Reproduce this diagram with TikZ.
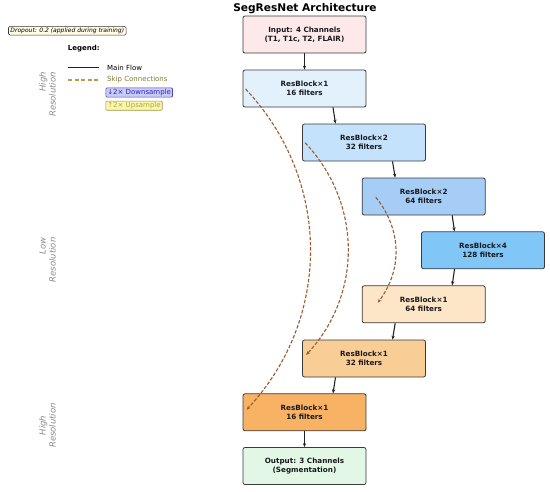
\documentclass[tikz,border=0pt]{standalone}
\usepackage{fontspec}
\setmainfont{DejaVu Sans}
\usetikzlibrary{arrows.meta,calc}
\definecolor{cin}{HTML}{FDE9E9}
\definecolor{ceA}{HTML}{E3F1FD}
\definecolor{ceB}{HTML}{C4E2FB}
\definecolor{ceC}{HTML}{A6CDF6}
\definecolor{ceD}{HTML}{80C6F7}
\definecolor{cdC}{HTML}{FDE5C8}
\definecolor{cdB}{HTML}{F8CE96}
\definecolor{cdA}{HTML}{F8B264}
\definecolor{cout}{HTML}{E2F7E5}
\definecolor{bordr}{HTML}{3A3A3A}
\definecolor{flowc}{HTML}{222222}
\definecolor{skipc}{HTML}{9C5A30}
\definecolor{legskip}{HTML}{B0A04A}
\definecolor{legskiptxt}{HTML}{7E7C36}
\definecolor{downtxt}{HTML}{2828C8}
\definecolor{downbg}{HTML}{CACAF6}
\definecolor{downbd}{HTML}{4646B4}
\definecolor{uptxt}{HTML}{B4A820}
\definecolor{upbg}{HTML}{F8F6B4}
\definecolor{upbd}{HTML}{A09A40}
\definecolor{dropbg}{HTML}{FFFBE4}
\definecolor{sidec}{HTML}{8A8A8A}
\begin{document}
\begin{tikzpicture}[x=1pt,y=-1pt,
  blk/.style={draw=bordr,line width=0.8pt,rounded corners=2pt,minimum width=123pt,minimum height=37pt,
    inner sep=0pt,align=center,font=\bfseries\fontsize{7.2}{9}\selectfont,text=black!90},
  flow/.style={draw=flowc,line width=1.1pt,-{Stealth[length=4pt,width=3.2pt]}},
  skipline/.style={draw=skipc,line width=1.1pt,dash pattern=on 3.5pt off 1.8pt,-{Stealth[length=4pt,width=3.2pt]}},
  legtxt/.style={anchor=west,inner sep=0pt,font=\fontsize{7}{8}\selectfont},
  sidelbl/.style={rotate=90,text=sidec,font=\itshape\fontsize{8.5}{10}\selectfont,inner sep=0pt}]
\useasboundingbox (0,0) rectangle (550,491);
\fill[white] (0,0) rectangle (550,491);

\node[font=\bfseries\fontsize{10.6}{12}\selectfont] (title) at (305,9) {SegResNet Architecture};

\node[draw=bordr,line width=0.6pt,fill=dropbg,rounded corners=1.5pt,inner xsep=2pt,inner ysep=1.5pt,
  font=\itshape\fontsize{6}{7}\selectfont] (drop) at (67.3,30.7) {Dropout: 0.2 (applied during training)};

\node[font=\bfseries\fontsize{7}{8}\selectfont] (leg) at (83.7,48.5) {Legend:};
\coordinate (mfa) at (68,67.7);
\coordinate (mfb) at (99.3,67.7);
\draw[flowc,line width=1.3pt] (mfa) -- (mfb);
\node[legtxt] (mft) at (107,67.7) {Main Flow};
\coordinate (ska) at (68,80);
\coordinate (skb) at (98,80);
\draw[legskip,line width=1.3pt,dash pattern=on 4pt off 2.5pt] (ska) -- (skb);
\node[legtxt,text=legskiptxt] (skt) at (107,80) {Skip Connections};
\node[legtxt,anchor=west,draw=downbd,fill=downbg,text=downtxt,rounded corners=1pt,inner xsep=1.5pt,inner ysep=1.2pt,line width=0.6pt] (dwn) at (105.5,92.5) {↓2× Downsample};
\node[legtxt,anchor=west,draw=upbd,fill=upbg,text=uptxt,rounded corners=1pt,inner xsep=1.5pt,inner ysep=1.2pt,line width=0.6pt] (upl) at (105.5,105.7) {↑2× Upsample};

\node[sidelbl,align=right] (s1) at (47.5,94.5) {High\\Resolution};
\node[sidelbl,align=right] (s2) at (47.5,260) {Low\\Resolution};
\node[sidelbl,align=center] (s3) at (47.5,425.5) {High\\Resolution};

\node[blk,fill=cin] (in) at (304.5,34.5) {Input: 4 Channels\\(T1, T1c, T2, FLAIR)};
\node[blk,fill=ceA] (e1) at (304.5,88.5) {ResBlock×1\\16 filters};
\node[blk,fill=ceB] (e2) at (364,142.5) {ResBlock×2\\32 filters};
\node[blk,fill=ceC] (e3) at (423.7,196.5) {ResBlock×2\\64 filters};
\node[blk,fill=ceD] (e4) at (483,250.3) {ResBlock×4\\128 filters};
\node[blk,fill=cdC] (d3) at (423.7,304.3) {ResBlock×1\\64 filters};
\node[blk,fill=cdB] (d2) at (364,358.5) {ResBlock×1\\32 filters};
\node[blk,fill=cdA] (d1) at (304.5,412.3) {ResBlock×1\\16 filters};
\node[blk,fill=cout] (out) at (304.5,466) {Output: 3 Channels\\(Segmentation)};

\draw[flow] (in.south) -- (e1.north);
\draw[flow] ($(e1.south)+(28.5,0)$) -- ($(e2.north)+(-28.5,0)$);
\draw[flow] ($(e2.south)+(28.5,0)$) -- ($(e3.north)+(-28.5,0)$);
\draw[flow] ($(e3.south)+(28.5,0)$) -- ($(e4.north)+(-28.5,0)$);
\draw[flow] ($(e4.south)+(-28.5,0)$) -- ($(d3.north)+(28.5,0)$);
\draw[flow] ($(d3.south)+(-28.5,0)$) -- ($(d2.north)+(28.5,0)$);
\draw[flow] ($(d2.south)+(-28.5,0)$) -- ($(d1.north)+(28.5,0)$);
\draw[flow] (d1.south) -- (out.north);

\draw[skipline] ($(e1.west)+(3,0.5)$) to[bend left=43] ($(d1.west)+(4,-2.5)$);
\draw[skipline] ($(e2.west)+(3,0.2)$) to[bend left=43] ($(d2.west)+(4,-3.5)$);
\draw[skipline] ($(e3.west)+(14,0.8)$) to[bend left=38] ($(d3.west)+(16,-1.6)$);
\end{tikzpicture}
\end{document}
